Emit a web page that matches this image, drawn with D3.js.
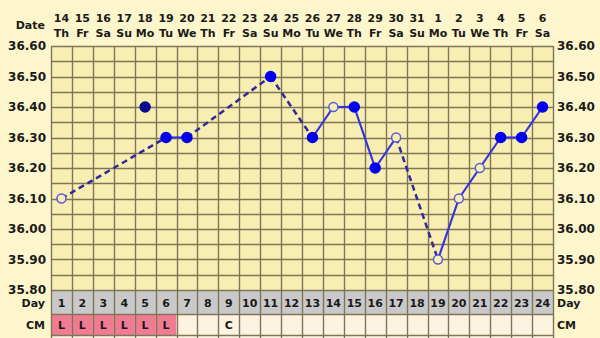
<!DOCTYPE html>
<html>
<head>
<meta charset="utf-8">
<script src="https://cdn.jsdelivr.net/npm/d3@7"></script>
<style>
  body { margin: 0; background: #fdf5cc; }
  svg { display: block; }
  text { font-family: "DejaVu Sans", sans-serif; font-weight: bold; fill: #1a1a1a; }
</style>
</head>
<body>
<svg id="chart" width="600" height="338"></svg>
<script>
var days = d3.range(1, 25);
var dates = ["14","15","16","17","18","19","20","21","22","23","24","25","26","27","28","29","30","31","1","2","3","4","5","6"];
var weekdays = ["Th","Fr","Sa","Su","Mo","Tu","We","Th","Fr","Sa","Su","Mo","Tu","We","Th","Fr","Sa","Su","Mo","Tu","We","Th","Fr","Sa"];
var temps = [36.10, null, null, null, 36.40, 36.30, 36.30, null, null, null, 36.50, null, 36.30, 36.40, 36.40, 36.20, 36.30, null, 35.90, 36.10, 36.20, 36.30, 36.30, 36.40];
var marks = ["open", "", "", "", "excluded", "filled", "filled", "", "", "", "filled", "", "filled", "open", "filled", "filled", "open", "", "open", "open", "open", "filled", "filled", "filled"];
var cm = ["L","L","L","L","L","L","","","C","","","","","","","","","","","","","","",""];
var yTicks = [35.80, 35.90, 36.00, 36.10, 36.20, 36.30, 36.40, 36.50, 36.60];

function drawChart() {
  var svg = d3.select("#chart"),
    left = 51, right = 553, plotTop = 46, plotBottom = 290,
    dayH = 24, cmH = 21;

  var x = d3.scaleBand().domain(days).range([left, right]);
  var y = d3.scaleLinear().domain([35.80, 36.60]).range([plotBottom, plotTop]);

  var gridColor = "#7f7658";

  // plot background
  svg.append("rect").attr("x", left).attr("y", plotTop).attr("width", right - left).attr("height", plotBottom - plotTop).attr("fill", "#f9eeb2");

  // day row
  svg.append("rect").attr("x", left).attr("y", plotBottom).attr("width", right - left).attr("height", dayH).attr("fill", "#c9c9c9");

  // cm row
  svg.selectAll(".cmcell").data(days).enter().append("rect")
    .attr("x", function(d) { return x(d); })
    .attr("y", plotBottom + dayH)
    .attr("width", x.bandwidth())
    .attr("height", cmH)
    .attr("fill", function(d, i) { return cm[i] == "L" ? "#f07b92" : "#fcf3e0"; });

  svg.append("rect").attr("x", left).attr("y", plotBottom + dayH + cmH).attr("width", right - left).attr("height", 20).attr("fill", "#fcf3e0");

  // horizontal grid every 0.05
  var hLines = d3.range(0, 17).map(function(i) { return 35.80 + i * 0.05; });
  svg.selectAll(".hgrid").data(hLines).enter().append("line")
    .attr("x1", left).attr("x2", right)
    .attr("y1", function(d) { return Math.round(y(d)) + 0.5; })
    .attr("y2", function(d) { return Math.round(y(d)) + 0.5; })
    .attr("stroke", gridColor).attr("stroke-width", 1.4);

  [plotBottom + dayH, plotBottom + dayH + cmH].forEach(function(v) {
    svg.append("line").attr("x1", left).attr("x2", right).attr("y1", v + 0.5).attr("y2", v + 0.5)
      .attr("stroke", gridColor).attr("stroke-width", 1.4);
  });

  // vertical grid
  var vLines = days.map(function(d) { return x(d); }).concat([right]);
  svg.selectAll(".vgrid").data(vLines).enter().append("line")
    .attr("x1", function(d) { return Math.round(d) + 0.5; })
    .attr("x2", function(d) { return Math.round(d) + 0.5; })
    .attr("y1", plotTop).attr("y2", 338)
    .attr("stroke", gridColor).attr("stroke-width", 1.4);

  // y labels both sides
  svg.selectAll(".ylabL").data(yTicks).enter().append("text")
    .attr("x", 46).attr("y", function(d) { return y(d) + 4; })
    .attr("text-anchor", "end").attr("font-size", 12)
    .text(function(d) { return d.toFixed(2); });
  svg.selectAll(".ylabR").data(yTicks).enter().append("text")
    .attr("x", 557).attr("y", function(d) { return y(d) + 4; })
    .attr("text-anchor", "start").attr("font-size", 12)
    .text(function(d) { return d.toFixed(2); });

  // header
  svg.append("text").attr("x", 45).attr("y", 29).attr("text-anchor", "end").attr("font-size", 11).text("Date");
  svg.selectAll(".date").data(days).enter().append("text")
    .attr("x", function(d) { return x(d) + x.bandwidth() / 2; })
    .attr("y", 22).attr("text-anchor", "middle").attr("font-size", 11)
    .text(function(d, i) { return dates[i]; });
  svg.selectAll(".wday").data(days).enter().append("text")
    .attr("x", function(d) { return x(d) + x.bandwidth() / 2; })
    .attr("y", 37).attr("text-anchor", "middle").attr("font-size", 11)
    .text(function(d, i) { return weekdays[i]; });

  // day row labels
  svg.append("text").attr("x", 45).attr("y", plotBottom + 17).attr("text-anchor", "end").attr("font-size", 11).text("Day");
  svg.append("text").attr("x", 557).attr("y", plotBottom + 17).attr("text-anchor", "start").attr("font-size", 11).text("Day");
  svg.selectAll(".dnum").data(days).enter().append("text")
    .attr("x", function(d) { return x(d) + x.bandwidth() / 2; })
    .attr("y", plotBottom + 17).attr("text-anchor", "middle").attr("font-size", 11)
    .text(function(d) { return d; });

  // cm labels
  svg.append("text").attr("x", 45).attr("y", plotBottom + dayH + 15).attr("text-anchor", "end").attr("font-size", 11).text("CM");
  svg.append("text").attr("x", 557).attr("y", plotBottom + dayH + 15).attr("text-anchor", "start").attr("font-size", 11).text("CM");
  svg.selectAll(".cmtxt").data(days).enter().append("text")
    .attr("x", function(d) { return x(d) + x.bandwidth() / 2; })
    .attr("y", plotBottom + dayH + 15).attr("text-anchor", "middle").attr("font-size", 11)
    .text(function(d, i) { return cm[i]; });

  // points that are part of the curve
  var allPts = days.map(function(d, i) { return { day: d, t: temps[i], mark: marks[i] }; })
    .filter(function(p) { return p.t !== null; });
  var pts = allPts.filter(function(p) { return p.mark != "excluded"; });

  var cx = function(p) { return x(p.day) + x.bandwidth() / 2; };

  var segs = [];
  for (var i = 1; i < pts.length; i++) {
    segs.push({ a: pts[i - 1], b: pts[i], gap: pts[i].day - pts[i - 1].day > 1 });
  }

  svg.selectAll(".seg").data(segs).enter().append("line")
    .attr("x1", function(d) { return cx(d.a); })
    .attr("y1", function(d) { return y(d.a.t); })
    .attr("x2", function(d) { return cx(d.b); })
    .attr("y2", function(d) { return y(d.b.t); })
    .attr("stroke", function(d) { return d.gap ? "#33289c" : "#3535dc"; })
    .attr("stroke-width", function(d) { return d.gap ? 2.5 : 2.2; })
    .attr("stroke-dasharray", function(d) { return d.gap ? "6,4" : null; });

  svg.selectAll(".dot").data(allPts).enter().append("circle")
    .attr("cx", cx)
    .attr("cy", function(d) { return y(d.t); })
    .attr("r", function(d) { return d.mark == "open" ? 4.5 : 5; })
    .attr("fill", function(d) {
      if (d.mark == "open") return "#f9eeb2";
      if (d.mark == "excluded") return "#0a0a90";
      return "#0000ee";
    })
    .attr("stroke", function(d) {
      if (d.mark == "open") return "#5a5ae0";
      if (d.mark == "excluded") return "#0a0a90";
      return "#0000ee";
    })
    .attr("stroke-width", 1.5);
}

drawChart();
</script>
</body>
</html>
